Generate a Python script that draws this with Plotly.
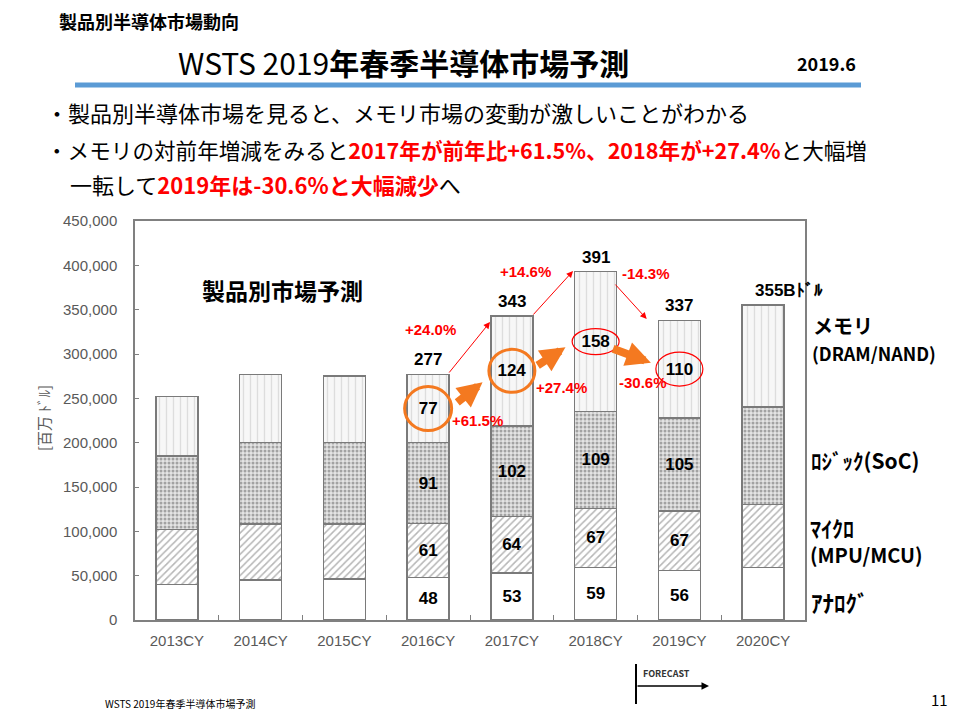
import plotly.graph_objects as go

# Data (units: billion USD, axis shown in million USD)
years = ["2013CY", "2014CY", "2015CY", "2016CY", "2017CY", "2018CY", "2019CY", "2020CY"]
analog = [40, 45, 46, 48, 53, 59, 56, 59]
micro = [62, 63, 62, 61, 64, 67, 67, 71]
logic = [83, 92, 92, 91, 102, 109, 105, 110]
memory = [67, 77, 75, 77, 124, 158, 110, 115]
total_labels = ["", "", "", "277", "343", "391", "337", "355Bﾄﾞﾙ"]
labelled = ["2016CY", "2017CY", "2018CY", "2019CY"]

JP = "Noto Sans CJK JP"
AR = "Liberation Sans"

# page offset of the figure inside the html body
OFF = 8
# plot area in page pixels (956x715 window)
L, R, T, B = 135, 805, 221, 620
W, H = 956, 715


def px(x):
    return (x - L) / (R - L)


def py(y):
    return (B - y) / (B - T)


def seg_text(vals):
    return [str(v) if y in labelled else "" for v, y in zip(vals, years)]


fig = go.Figure()
series = [
    ("アナログ", analog, dict(bgcolor="white", fgcolor="white", shape="")),
    ("マイクロ", micro, dict(shape="/", bgcolor="white", fgcolor="#6e6e6e", size=5, solidity=0.3)),
    ("ロジック", logic, dict(shape=".", bgcolor="#e4e4e4", fgcolor="#5f5f5f", size=4, solidity=0.45)),
    ("メモリ", memory, dict(shape="|", bgcolor="#f7f7f7", fgcolor="#c4c4c4", size=7, solidity=0.2)),
]
for name, vals, pat in series:
    fig.add_trace(go.Bar(
        x=years, y=[v * 1000 for v in vals], name=name,
        text=seg_text(vals), textposition="inside", insidetextanchor="middle",
        textfont=dict(family=AR, size=17, color="black", weight="bold"),
        marker=dict(color=pat["bgcolor"], pattern=pat,
                    line=dict(color="#7a7a7a", width=1.5)),
        hoverinfo="x+y+name",
    ))

totals = [a + b + c + d for a, b, c, d in zip(analog, micro, logic, memory)]
for i, (lab, tot) in enumerate(zip(total_labels, totals)):
    if lab:
        last = i == len(years) - 1
        fig.add_annotation(x=years[i], y=tot * 1000, text="<b>%s</b>" % lab, showarrow=False,
                           xanchor="left" if last else "center", xshift=-10 if last else 0,
                           yanchor="bottom", yshift=3, font=dict(family=AR, size=17, color="black"))

# circles around memory values
mem_mid = [(a + b + c + d / 2) * 1000 for a, b, c, d in zip(analog, micro, logic, memory)]
circles = [(3, 47, 44, "#F47920", 3), (4, 46, 43, "#F47920", 3),
           (5, 47, 26, "#FF0000", 1.2), (6, 47, 34, "#FF0000", 1.2)]
for i, w, h, c, lw in circles:
    fig.add_shape(type="circle", xref="x", yref="y", xsizemode="pixel", ysizemode="pixel",
                  xanchor=years[i], yanchor=mem_mid[i], x0=-w / 2, x1=w / 2, y0=-h / 2, y1=h / 2,
                  line=dict(color=c, width=lw))

# thick orange arrows (memory growth)
for (x0, y0, x1, y1) in [(3.33, 244000, 3.65, 268000), (4.29, 286000, 4.64, 307500),
                         (5.19, 306500, 5.66, 290000)]:
    fig.add_annotation(x=x1, y=y1, ax=x0, ay=y0, xref="x", yref="y", axref="x", ayref="y",
                       text="", showarrow=True, arrowhead=2, arrowsize=0.62, arrowwidth=8,
                       arrowcolor="#F47920")

# thin red arrows (total growth)
for (x0, y0, x1, y1) in [(3.237, 277400, 3.739, 336000), (4.24, 342800, 4.73, 393600),
                         (5.22, 380000, 5.61, 339500)]:
    fig.add_annotation(x=x1, y=y1, ax=x0, ay=y0, xref="x", yref="y", axref="x", ayref="y",
                       text="", showarrow=True, arrowhead=2, arrowsize=1.3, arrowwidth=1,
                       arrowcolor="#FF0000")

# red percentage labels
for (x, y, t) in [(430, 329, "+24.0%"), (525, 271, "+14.6%"), (646, 273, "-14.3%"),
                  (477, 420, "+61.5%"), (561, 387, "+27.4%"), (643, 382, "-30.6%")]:
    fig.add_annotation(x=px(x), y=py(y), xref="paper", yref="paper", text="<b>%s</b>" % t,
                       xanchor="center", yanchor="middle", showarrow=False,
                       font=dict(family=AR, size=15, color="#FF0000"))

# slide text
texts = [
    (57, 21, "<b>製品別半導体市場動向</b>", 18, "left", "black"),
    (403, 62, "WSTS 2019<b>年春季半導体市場予測</b>", 30, "center", "black"),
    (826, 63, "<b>2019.6</b>", 18, "center", "black"),
    (44, 112, "・製品別半導体市場を見ると、メモリ市場の変動が激しいことがわかる", 22, "left", "black"),
    (44, 149, "・メモリの対前年増減をみると<span style='color:#FF0000'><b>2017年が前年比+61.5%、2018年が+27.4%</b></span>と大幅増", 21.6, "left", "black"),
    (68, 184, "一転して<span style='color:#FF0000'><b>2019年は-30.6%と大幅減少</b></span>へ", 22, "left", "black"),
    (282, 290, "<b>製品別市場予測</b>", 23, "center", "black"),
    (811, 325, "<b>メモリ</b>", 20, "left", "black"),
    (810, 353, "<b>(DRAM/NAND)</b>", 18, "left", "black"),
    (809, 460, "<b>ﾛｼﾞｯｸ(SoC)</b>", 21, "left", "black"),
    (808, 527, "<b>ﾏｲｸﾛ</b>", 22, "left", "black"),
    (808, 554, "<b>(MPU/MCU)</b>", 20, "left", "black"),
    (809, 602, "<b>ｱﾅﾛｸﾞ</b>", 23, "left", "black"),
    (103, 703, "WSTS 2019年春季半導体市場予測", 10, "left", "black"),
    (939, 699, "11", 15, "center", "black"),
    (641, 673, "<b>FORECAST</b>", 9, "left", "#333333"),
]
for x, y, t, s, anc, col in texts:
    fig.add_annotation(x=px(x), y=py(y), xref="paper", yref="paper", text=t, showarrow=False,
                       xanchor=anc, yanchor="middle", font=dict(family=JP, size=s, color=col))

fig.add_annotation(x=px(43), y=py(418), xref="paper", yref="paper", text="[百万 ﾄﾞﾙ]",
                   textangle=-90, xanchor="center", yanchor="middle", showarrow=False,
                   font=dict(family=JP, size=15, color="#595959"))

# blue rule under title
fig.add_shape(type="line", xref="paper", yref="paper", x0=px(75), x1=px(861), y0=py(85), y1=py(85),
              line=dict(color="#5B9BD5", width=5))
# forecast marker
fig.add_shape(type="line", xref="paper", yref="paper", x0=px(636), x1=px(636), y0=py(664), y1=py(704),
              line=dict(color="black", width=2))
fig.add_annotation(x=px(709), y=py(686), xref="paper", yref="paper", ax=-73, ay=0, text="",
                   showarrow=True, arrowhead=2, arrowsize=1, arrowwidth=1.5, arrowcolor="black")

fig.update_layout(
    width=W, height=H,
    barmode="stack", bargap=0.5, showlegend=False,
    plot_bgcolor="white", paper_bgcolor="white",
    margin=dict(l=L - OFF, r=W - R + OFF, t=T - OFF, b=H - B + OFF, autoexpand=False),
    font=dict(family=JP),
)
fig.update_xaxes(range=[-0.5, len(years) - 0.5], autorange=False,
                 showline=True, linecolor="#808080", linewidth=1.5, mirror=True,
                 ticks="inside", tickson="boundaries", ticklen=5, tickcolor="#808080",
                 ticklabelstandoff=6,
                 tickfont=dict(family=AR, size=15, color="#595959"), automargin=False)
fig.update_yaxes(range=[0, 450000], autorange=False, dtick=50000, tickformat=",", showgrid=False,
                 zeroline=False, showline=True, linecolor="#808080", linewidth=1.5, mirror=True,
                 ticks="inside", ticklen=4, tickcolor="#808080", ticklabelstandoff=13,
                 tickfont=dict(family=AR, size=15, color="#595959"), automargin=False)

fig.write_html("out.html")
